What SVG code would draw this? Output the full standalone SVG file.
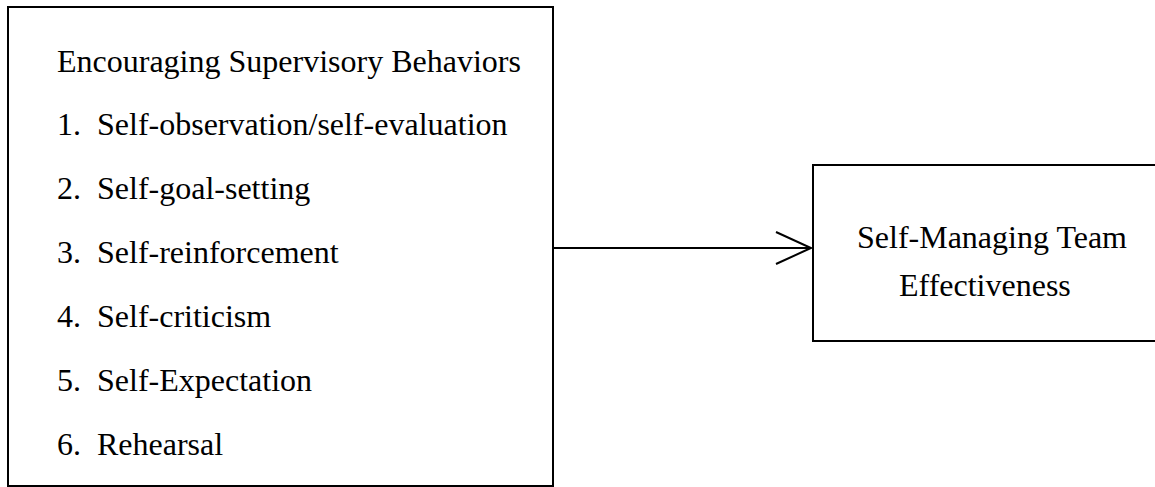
<svg xmlns="http://www.w3.org/2000/svg" width="1155" height="487" viewBox="0 0 1155 487">
  <style>
    .box { fill: #ffffff; stroke: #000000; stroke-width: 2; }
    .lbl { font-family: "Liberation Serif", "Times New Roman", serif; font-size: 32px; fill: #000000; }
    .wire { fill: none; stroke: #000000; stroke-width: 2; }
  </style>
  <rect width="1155" height="487" fill="#ffffff"/>

  <g id="supervisory-behaviors">
    <rect class="box" x="8" y="7" width="545" height="479"/>
    <text class="lbl" x="57" y="72">Encouraging Supervisory Behaviors</text>
    <text class="lbl" x="57" y="135">1.</text>
    <text class="lbl" x="97" y="135">Self-observation/self-evaluation</text>
    <text class="lbl" x="57" y="199">2.</text>
    <text class="lbl" x="97" y="199">Self-goal-setting</text>
    <text class="lbl" x="57" y="263">3.</text>
    <text class="lbl" x="97" y="263">Self-reinforcement</text>
    <text class="lbl" x="57" y="327">4.</text>
    <text class="lbl" x="97" y="327">Self-criticism</text>
    <text class="lbl" x="57" y="391">5.</text>
    <text class="lbl" x="97" y="391">Self-Expectation</text>
    <text class="lbl" x="57" y="455">6.</text>
    <text class="lbl" x="97" y="455">Rehearsal</text>
  </g>

  <g id="team-effectiveness">
    <rect class="box" x="813" y="165" width="360" height="176"/>
    <text class="lbl" x="857" y="248">Self-Managing Team</text>
    <text class="lbl" x="899" y="296">Effectiveness</text>
  </g>

  <g id="connectors">
    <line class="wire" x1="553" y1="248" x2="811" y2="248"/>
    <polyline class="wire" points="776,232 811,248 776,264"/>
  </g>
</svg>
